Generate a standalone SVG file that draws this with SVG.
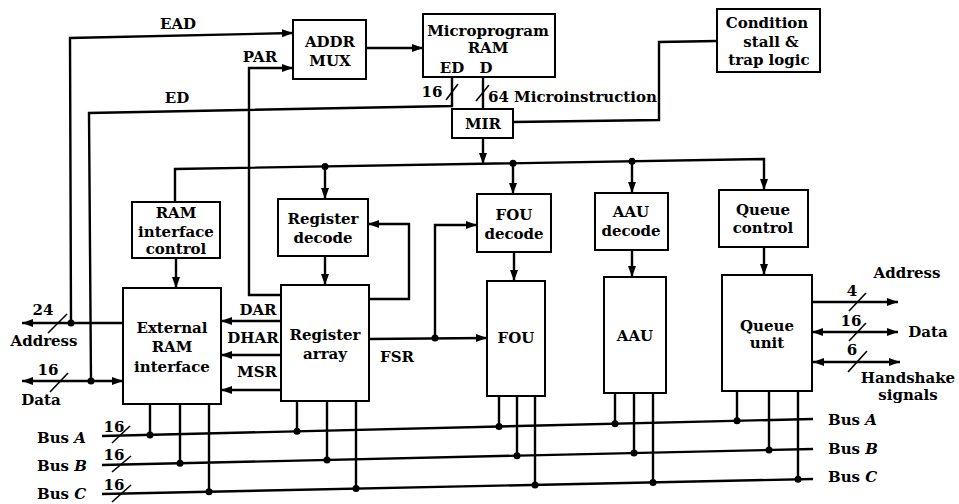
<svg xmlns="http://www.w3.org/2000/svg" width="959" height="504" viewBox="0 0 959 504">
<defs>
<marker id="arr" markerUnits="userSpaceOnUse" markerWidth="12" markerHeight="9" refX="11" refY="4" orient="auto-start-reverse">
<path d="M0,0 L11,4 L0,8 z" fill="#000"/>
</marker>
<style>
.box{fill:#fff;stroke:#000;stroke-width:2}
text{font-family:"DejaVu Serif","Liberation Serif",serif;font-weight:bold;font-size:15px;fill:#000;text-anchor:middle;dominant-baseline:central}
.l{fill:none;stroke:#000;stroke-width:2.4;stroke-linejoin:miter}
.a{marker-end:url(#arr)}
.d{marker-start:url(#arr);marker-end:url(#arr)}
.s{stroke:#000;stroke-width:1.6}
.st{text-anchor:start}
.dot{fill:#000}
</style>
</defs>
<rect x="0" y="0" width="959" height="504" fill="#fff"/>

<g id="connectors">
<!-- EAD -->
<polyline class="l a" points="71,323 70,38 293,33"/>
<text x="178" y="24">EAD</text>
<!-- PAR -->
<polyline class="l a" points="281,295 249,295 249,68 293,68"/>
<text x="260" y="57">PAR</text>
<!-- ADDR MUX to RAM -->
<line class="l a" x1="366" y1="48" x2="423" y2="48"/>
<!-- ED -->
<polyline class="l" points="452,77 452,106 89,113 91,381"/>
<text x="177" y="98">ED</text>
<line class="s" x1="446" y1="100" x2="458" y2="84"/>
<text x="432" y="92">16</text>
<!-- D to MIR -->
<line class="l" x1="483" y1="77" x2="483" y2="109"/>
<line class="s" x1="476" y1="101" x2="489" y2="85"/>
<text class="st" x="488" y="97">64 Microinstruction</text>
<!-- MIR to condition -->
<polyline class="l" points="513,122 659,120 659,42 717,41"/>
<!-- MIR down -->
<line class="l a" x1="483" y1="138" x2="483" y2="164"/>
<!-- distribution line -->
<polyline class="l a" points="175,202 175,169 764,159 764,190"/>
<line class="l a" x1="325" y1="166" x2="325" y2="199"/>
<line class="l a" x1="513" y1="163" x2="513" y2="194"/>
<line class="l a" x1="632" y1="161" x2="632" y2="193"/>
<circle class="dot" cx="325" cy="166.5" r="3.5"/>
<circle class="dot" cx="513" cy="163.2" r="3.5"/>
<circle class="dot" cx="632" cy="161.2" r="3.5"/>
<!-- decode to units -->
<line class="l a" x1="176" y1="258" x2="176" y2="288"/>
<line class="l a" x1="325" y1="256" x2="325" y2="285"/>
<line class="l a" x1="514" y1="252" x2="514" y2="281"/>
<line class="l a" x1="632" y1="250" x2="632" y2="277"/>
<line class="l a" x1="764" y1="247" x2="764" y2="275"/>
<!-- register feedback -->
<polyline class="l a" points="369,299 409,299 409,224 368,224"/>
<!-- FSR -->
<line class="l a" x1="369" y1="339" x2="487" y2="338"/>
<polyline class="l a" points="435,338 435,225 477,225"/>
<circle class="dot" cx="435" cy="338" r="3.5"/>
<text x="397" y="357">FSR</text>
<!-- DAR DHAR MSR -->
<line class="l a" x1="281" y1="321" x2="221" y2="321"/>
<text x="258" y="310">DAR</text>
<line class="l a" x1="281" y1="355" x2="221" y2="355"/>
<text x="253" y="338">DHAR</text>
<line class="l a" x1="281" y1="390" x2="221" y2="390"/>
<text x="257" y="372">MSR</text>
<!-- Address left -->
<line class="l a" x1="123" y1="323" x2="22" y2="323"/>
<circle class="dot" cx="71" cy="323" r="3.5"/>
<line class="s" x1="48" y1="333" x2="67" y2="314"/>
<text x="43" y="310">24</text>
<text x="44" y="341">Address</text>
<!-- Data left -->
<line class="l d" x1="22" y1="381" x2="123" y2="381"/>
<circle class="dot" cx="91" cy="381" r="3.5"/>
<line class="s" x1="50" y1="392" x2="68" y2="373"/>
<text x="48" y="370">16</text>
<text x="41" y="400">Data</text>
<!-- Queue outputs -->
<line class="l a" x1="812" y1="302" x2="898" y2="302"/>
<line class="s" x1="849" y1="311" x2="866" y2="293"/>
<text x="852" y="291">4</text>
<text x="907" y="273">Address</text>
<line class="l d" x1="812" y1="332" x2="898" y2="332"/>
<line class="s" x1="849" y1="341" x2="866" y2="323"/>
<text x="851" y="321">16</text>
<text x="928" y="332">Data</text>
<line class="l d" x1="813" y1="362" x2="900" y2="362"/>
<line class="s" x1="848" y1="372" x2="867" y2="351"/>
<text x="852" y="350">6</text>
<text x="908" y="378">Handshake</text>
<text x="908" y="395">signals</text>
<!-- Buses -->
<line class="l" x1="102" y1="436" x2="813" y2="419"/>
<line class="l" x1="102" y1="465" x2="813" y2="449"/>
<line class="l" x1="102" y1="494" x2="813" y2="479"/>
<line class="s" x1="112" y1="443" x2="130" y2="426"/>
<line class="s" x1="112" y1="472" x2="131" y2="456"/>
<line class="s" x1="112" y1="502" x2="131" y2="485"/>
<text x="114" y="427">16</text>
<text x="114" y="455">16</text>
<text x="114" y="485">16</text>
<text class="st" x="37" y="438">Bus <tspan font-style="italic">A</tspan></text>
<text class="st" x="37" y="466">Bus <tspan font-style="italic">B</tspan></text>
<text class="st" x="37" y="494">Bus <tspan font-style="italic">C</tspan></text>
<text class="st" x="828" y="420">Bus <tspan font-style="italic">A</tspan></text>
<text class="st" x="828" y="449">Bus <tspan font-style="italic">B</tspan></text>
<text class="st" x="828" y="477">Bus <tspan font-style="italic">C</tspan></text>
<!-- bus taps -->
<line class="l" x1="150" y1="404" x2="150" y2="435"/>
<line class="l" x1="180" y1="404" x2="180" y2="463"/>
<line class="l" x1="209" y1="404" x2="209" y2="492"/>
<line class="l" x1="297" y1="401" x2="297" y2="431"/>
<line class="l" x1="327" y1="401" x2="327" y2="460"/>
<line class="l" x1="356" y1="401" x2="356" y2="489"/>
<line class="l" x1="499" y1="396" x2="499" y2="427"/>
<line class="l" x1="517" y1="396" x2="517" y2="456"/>
<line class="l" x1="535" y1="396" x2="535" y2="485"/>
<line class="l" x1="615" y1="393" x2="615" y2="424"/>
<line class="l" x1="634" y1="393" x2="634" y2="453"/>
<line class="l" x1="653" y1="393" x2="653" y2="482"/>
<line class="l" x1="737" y1="391" x2="737" y2="421"/>
<line class="l" x1="769" y1="391" x2="769" y2="450"/>
<line class="l" x1="798" y1="391" x2="798" y2="479"/>
<circle class="dot" cx="150" cy="434.9" r="3.5"/>
<circle class="dot" cx="180" cy="463.2" r="3.5"/>
<circle class="dot" cx="209" cy="491.7" r="3.5"/>
<circle class="dot" cx="297" cy="431.3" r="3.5"/>
<circle class="dot" cx="327" cy="459.9" r="3.5"/>
<circle class="dot" cx="356" cy="488.6" r="3.5"/>
<circle class="dot" cx="499" cy="426.5" r="3.5"/>
<circle class="dot" cx="517" cy="455.7" r="3.5"/>
<circle class="dot" cx="535" cy="484.9" r="3.5"/>
<circle class="dot" cx="615" cy="423.7" r="3.5"/>
<circle class="dot" cx="634" cy="453" r="3.5"/>
<circle class="dot" cx="653" cy="482.4" r="3.5"/>
<circle class="dot" cx="737" cy="420.8" r="3.5"/>
<circle class="dot" cx="769" cy="450" r="3.5"/>
<circle class="dot" cx="798" cy="479.3" r="3.5"/>
</g>

<g id="addr_mux"><rect class="box" x="293" y="20" width="73" height="59"/><text x="330" y="42">ADDR</text><text x="330" y="61">MUX</text></g>
<g id="microprogram_ram"><rect class="box" x="423" y="14" width="132" height="63"/><text x="488" y="31">Microprogram</text><text x="488" y="48">RAM</text><text x="452" y="68">ED</text><text x="486" y="68">D</text></g>
<g id="mir"><rect class="box" x="452" y="109" width="61" height="29"/><text x="483" y="124">MIR</text></g>
<g id="condition"><rect class="box" x="717" y="9" width="103" height="63"/><text x="767" y="23">Condition</text><text x="771" y="42">stall &amp;</text><text x="769" y="60">trap logic</text></g>
<g id="ram_if_ctrl"><rect class="box" x="132" y="202" width="88" height="56"/><text x="176" y="213">RAM</text><text x="176" y="232">interface</text><text x="176" y="249">control</text></g>
<g id="reg_decode"><rect class="box" x="278" y="199" width="90" height="57"/><text x="323" y="219">Register</text><text x="323" y="238">decode</text></g>
<g id="fou_decode"><rect class="box" x="477" y="194" width="74" height="58"/><text x="514" y="215">FOU</text><text x="514" y="234">decode</text></g>
<g id="aau_decode"><rect class="box" x="595" y="193" width="73" height="57"/><text x="631" y="212">AAU</text><text x="631" y="231">decode</text></g>
<g id="queue_ctrl"><rect class="box" x="719" y="190" width="89" height="57"/><text x="763" y="210">Queue</text><text x="763" y="228">control</text></g>
<g id="ext_ram_if"><rect class="box" x="123" y="288" width="98" height="116"/><text x="172" y="328">External</text><text x="172" y="347">RAM</text><text x="172" y="367">interface</text></g>
<g id="reg_array"><rect class="box" x="281" y="285" width="88" height="116"/><text x="325" y="335">Register</text><text x="325" y="354">array</text></g>
<g id="fou"><rect class="box" x="487" y="281" width="58" height="115"/><text x="516" y="338">FOU</text></g>
<g id="aau"><rect class="box" x="604" y="277" width="62" height="116"/><text x="635" y="336">AAU</text></g>
<g id="queue_unit"><rect class="box" x="722" y="275" width="90" height="116"/><text x="767" y="326">Queue</text><text x="767" y="343">unit</text></g>
</svg>
